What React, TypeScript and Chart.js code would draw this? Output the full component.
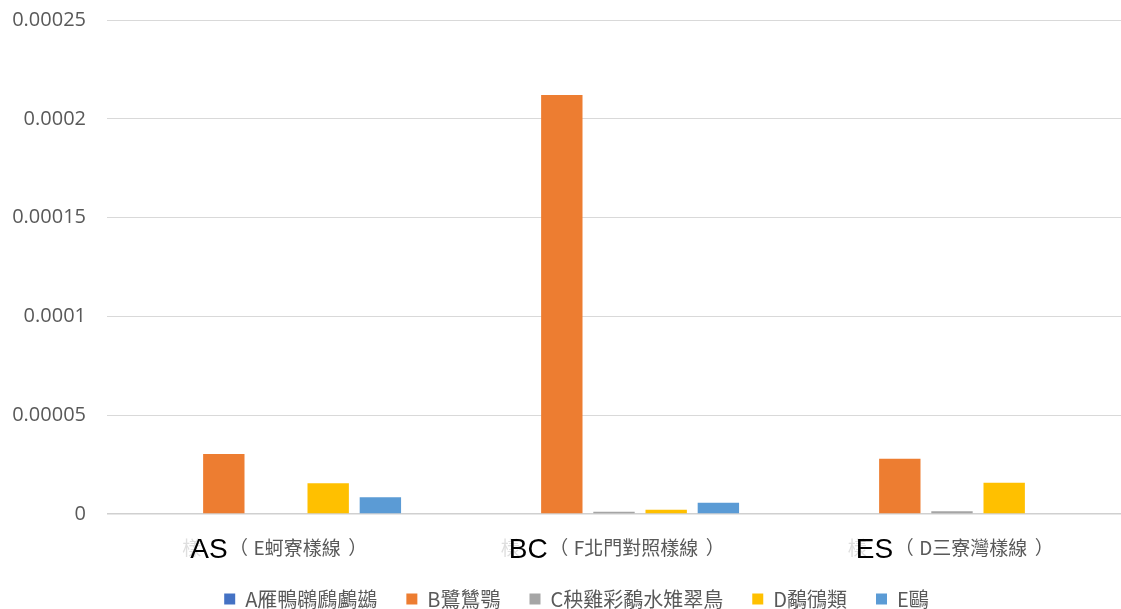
import React, { useEffect, useRef } from "react";
import { Chart, registerables } from "chart.js";

Chart.register(...registerables);

// ---- data ----
const siteCodes = ["AS", "BC", "ES"];
const siteNames = ["（E蚵寮樣線）", "（F北門對照樣線）", "（D三寮灣樣線）"];
const seriesNames = ["A雁鴨鸊鷉鸕鷀", "B鷺鷥鶚", "C秧雞彩鷸水雉翠鳥", "D鷸鴴類", "E鷗"];
const seriesA = [0, 0, 0];
const seriesB = [0.0000304, 0.000212, 0.0000279];
const seriesC = [0, 0.0000012, 0.0000014];
const seriesD = [0.0000155, 0.0000022, 0.0000158];
const seriesE = [0.0000085, 0.0000057, 0];
const yTicks = [0, 0.00005, 0.0001, 0.00015, 0.0002, 0.00025];

const palette = ["#4472C4", "#ED7D31", "#A5A5A5", "#FFC000", "#5B9BD5"];

const siteLabelPlugin = {
  id: "siteLabels",
  afterLayout(chart: any) {
    const lg = chart.legend;
    if (lg) {
      lg.left += 16;
      lg.right += 16;
    }
  },
  afterDraw(chart: any) {
    const { ctx } = chart;
    const x = chart.scales.x;
    ctx.save();
    siteCodes.forEach((code, i) => {
      const cx = x.getPixelForValue(i);
      const codeFont = '28px "Liberation Sans", Arial, sans-serif';
      const nameFont = '19px "Noto Sans CJK TC", sans-serif';
      const name = siteNames[i];
      const open = name.slice(0, 1);
      const close = name.slice(-1);
      const inner = name.slice(1, -1);
      ctx.font = codeFont;
      const wc = ctx.measureText(code).width;
      ctx.font = nameFont;
      const wi = ctx.measureText(inner).width;
      const lead = 26; // space for opening bracket
      const trail = 21; // space for closing bracket
      const total = wc + lead + wi + trail;
      const start = cx - total / 2;
      ctx.textBaseline = "alphabetic";
      // faint underlying text
      ctx.font = nameFont;
      ctx.textAlign = "left";
      ctx.fillStyle = "rgba(190,190,190,0.5)";
      ctx.fillText("樣", start - 8, x.top + 41);
      // code
      ctx.font = codeFont;
      ctx.fillStyle = "#000000";
      ctx.fillText(code, start, x.top + 44);
      // name with brackets
      ctx.font = nameFont;
      ctx.fillStyle = "#595959";
      ctx.textAlign = "center";
      ctx.fillText(open, start + wc + 11, x.top + 41);
      ctx.textAlign = "left";
      ctx.fillText(inner, start + wc + lead, x.top + 41);
      ctx.textAlign = "center";
      ctx.fillText(close, start + wc + lead + wi + 17, x.top + 41);
    });
    ctx.restore();
  },
};

export default function App() {
  const canvasRef = useRef<HTMLCanvasElement | null>(null);

  useEffect(() => {
    document.body.style.margin = "0";
    const canvas = canvasRef.current;
    if (!canvas) return;
    const allSeries = [seriesA, seriesB, seriesC, seriesD, seriesE];
    const chart = new Chart(canvas, {
      type: "bar",
      data: {
        labels: siteCodes.map((c, i) => c + siteNames[i]),
        datasets: allSeries.map((s, i) => ({
          label: seriesNames[i],
          data: s,
          backgroundColor: palette[i],
          borderWidth: 0,
          categoryPercentage: 0.772,
          barPercentage: 0.793,
        })),
      },
      options: {
        animation: false,
        responsive: true,
        maintainAspectRatio: false,
        layout: { padding: { top: 20, right: 0, left: 0, bottom: 0 } },
        plugins: {
          tooltip: { enabled: false },
          legend: {
            position: "bottom",
            labels: {
              boxWidth: 11,
              boxHeight: 11,
              padding: 29,
              color: "#595959",
              font: { size: 20, family: '"Noto Sans CJK TC", sans-serif' },
            },
          },
        },
        scales: {
          x: {
            grid: { display: false },
            border: { display: false },
            ticks: { display: false },
            afterFit: (scale: any) => {
              scale.height = 46;
            },
          },
          y: {
            min: 0,
            max: 0.00025,
            afterBuildTicks: (scale: any) => {
              scale.ticks = yTicks.map((v) => ({ value: v }));
            },
            afterFit: (scale: any) => {
              scale.width = 107;
              scale.paddingTop = 0;
              scale.paddingBottom = 0;
            },
            border: { display: false },
            grid: {
              color: (c: any) => (c.tick && c.tick.value === 0 ? "#d0d0d0" : "#d9d9d9"),
              lineWidth: (c: any) => (c.tick && c.tick.value === 0 ? 1.5 : 1),
              drawTicks: false,
            },
            ticks: {
              padding: 21,
              color: "#595959",
              font: { size: 20, family: '"Open Sans", sans-serif' },
              callback: (v: any) => String(parseFloat(Number(v).toPrecision(6))),
            },
          },
        },
      },
      plugins: [siteLabelPlugin],
    });
    return () => chart.destroy();
  }, []);

  return (
    <div
      style={{
        position: "fixed",
        left: 0,
        top: 0,
        width: 1121,
        height: 609,
        overflow: "hidden",
        background: "#ffffff",
      }}
    >
      <div style={{ position: "relative", width: 1121, height: 619 }}>
        <canvas ref={canvasRef} />
      </div>
    </div>
  );
}
